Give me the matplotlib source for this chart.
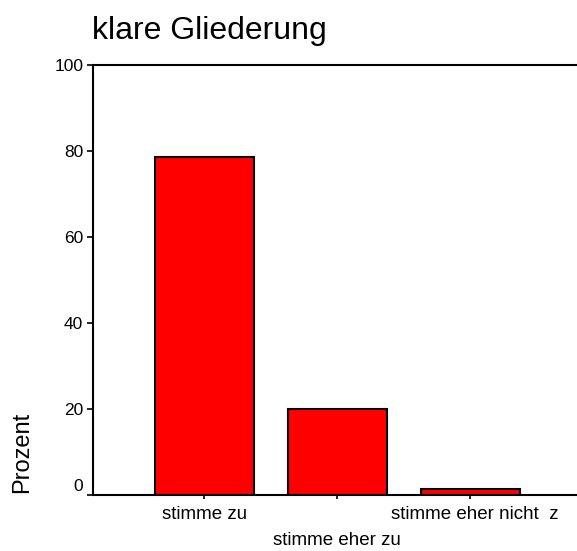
import numpy as np
import matplotlib
matplotlib.use('Agg')
import matplotlib.pyplot as plt
from matplotlib.transforms import ScaledTranslation

plt.rcParams['font.family'] = ['Liberation Sans', 'DejaVu Sans']

categories = ['stimme zu', 'stimme eher zu', 'stimme eher nicht  z']
percent = [78.6, 19.9, 1.3]
y_ticks = [0, 20, 40, 60, 80, 100]

fig = plt.figure(figsize=(5.77, 5.51), dpi=100)
ax = fig.add_axes([93 / 577, 1 - 495 / 551, 1 - 93 / 577, 430 / 551])

x = np.arange(len(categories))
ax.bar(x, percent, width=0.745, color='#ff0000', edgecolor='black', linewidth=1.5)

ax.set_xlim(-0.835, 2.80)
ax.set_ylim(0, 100)
ax.set_yticks(y_ticks)
ax.set_yticklabels([str(v) for v in y_ticks], fontsize=12.5)
ax.set_xticks(x)
ax.set_xticklabels(categories, fontsize=13.5)
ax.tick_params(axis='y', direction='out', length=4, width=1.2, pad=3)
ax.tick_params(axis='x', direction='out', length=3, width=1.2, pad=5)

for side in ['left', 'top', 'bottom']:
    ax.spines[side].set_linewidth(1.5)
ax.spines['right'].set_visible(False)

# staggered category labels, zero label sits slightly above the axis
xl = ax.get_xticklabels()
xl[1].set_transform(xl[1].get_transform() + ScaledTranslation(0, -0.26, fig.dpi_scale_trans))
xl[2].set_transform(xl[2].get_transform() + ScaledTranslation(0.04, 0, fig.dpi_scale_trans))
yl = ax.get_yticklabels()
yl[0].set_transform(yl[0].get_transform() + ScaledTranslation(0, 0.10, fig.dpi_scale_trans))

fig.text(92 / 577, 1 - 31 / 551, 'klare Gliederung', fontsize=23, ha='left', va='center')
fig.text(22 / 577, 1 - 452 / 551, 'Prozent', fontsize=17, rotation=90, ha='center', va='center')

fig.savefig('out.png', dpi=100)
